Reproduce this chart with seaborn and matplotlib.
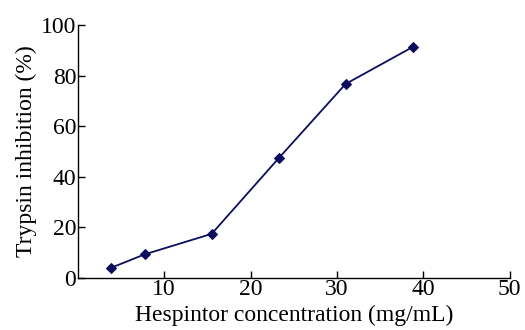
import matplotlib
matplotlib.use("Agg")
import matplotlib.pyplot as plt
import pandas as pd
import seaborn as sns

# Hespintor concentration (mg/mL) vs trypsin inhibition (%)
concentration = [3.875, 7.75, 15.5, 23.25, 31.0, 38.75]
inhibition = [4.0, 9.3, 17.4, 47.3, 76.7, 91.3]
x_ticks = [10, 20, 30, 40, 50]
y_ticks = [0, 20, 40, 60, 80, 100]

sns.set_style("ticks")
plt.rcParams['font.family'] = ['Liberation Serif', 'DejaVu Serif']
plt.rcParams['text.color'] = 'black'
plt.rcParams['axes.labelcolor'] = 'black'

df = pd.DataFrame({"conc": concentration, "inhib": inhibition})

fig = plt.figure(figsize=(5.25, 3.3), dpi=100)
ax = fig.add_axes([0.148, 0.158, 0.823, 0.766])
sns.lineplot(data=df, x="conc", y="inhib", ax=ax, color="#0d0d5e",
             marker="D", markersize=5, markeredgecolor="#0d0d5e",
             linewidth=1.3)

ax.set_xlim(0, 50)
ax.set_ylim(0, 100)
ax.set_xticks(x_ticks)
ax.set_yticks(y_ticks)
ax.tick_params(direction="in", length=5, width=1, labelsize=17, pad=1,
               colors="black")
ax.set_xlabel("Hespintor concentration (mg/mL)", fontsize=17, labelpad=3)
ax.set_ylabel("Trypsin inhibition (%)", fontsize=17, labelpad=3)
sns.despine(ax=ax)
for s in ["left", "bottom"]:
    ax.spines[s].set_linewidth(1)
    ax.spines[s].set_color("black")

fig.savefig("out.png", dpi=100)
